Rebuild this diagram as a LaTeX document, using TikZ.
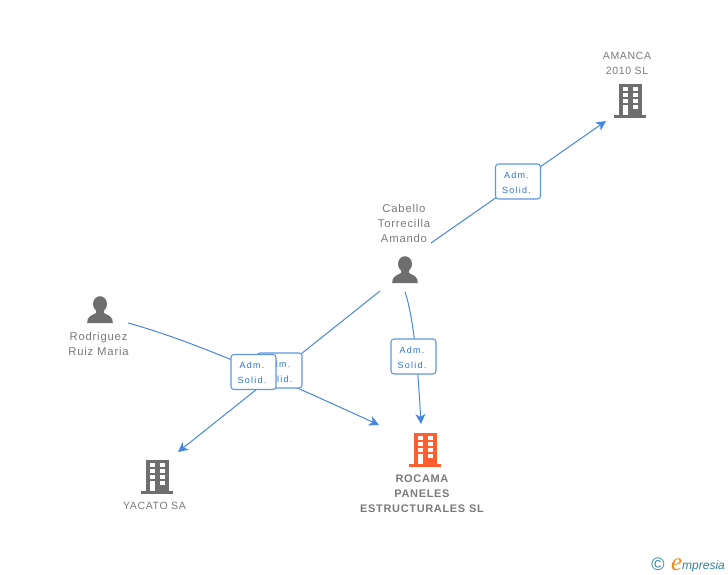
\documentclass[tikz,border=0pt]{standalone}
\usepackage{fontspec}
\setmainfont{Liberation Sans}
\newfontfamily\lblfont[LetterSpace=7]{Liberation Sans}
\newfontfamily\capfont[LetterSpace=6]{Liberation Sans}
\newfontfamily\boxfont[LetterSpace=14]{Liberation Sans}
\newfontfamily\efont{Liberation Serif}
\usetikzlibrary{arrows.meta}
\definecolor{ink}{HTML}{6E6E6E}
\definecolor{txt}{HTML}{7A7A7A}
\definecolor{linkc}{HTML}{4686E2}
\definecolor{boxb}{HTML}{5F97E2}
\definecolor{boxt}{HTML}{2F74D0}
\definecolor{orangeb}{HTML}{FF5F2E}
\definecolor{teal2}{HTML}{2F7F98}
\definecolor{orangee}{HTML}{F08A1D}
\tikzset{
  x=1pt,y=-1pt,
  link/.style={draw=linkc,line width=1pt,-{Stealth[length=10pt,width=10pt,inset=3pt]}},
  admbox/.style={draw=boxb,line width=1.1pt,rounded corners=3pt,fill=white,minimum width=45pt,minimum height=35pt,inner sep=0pt},
  admtext/.style={inner sep=0pt,align=center,text=boxt,font=\boxfont\fontsize{9}{15}\selectfont},
  lbl/.style={align=center,text=txt,inner sep=0pt,font=\lblfont\fontsize{11.3}{15}\selectfont},
  clbl/.style={align=center,text=txt,inner sep=0pt,font=\capfont\fontsize{10.5}{15}\selectfont},
  blbl/.style={align=center,text=txt,inner sep=0pt,font=\capfont\bfseries\fontsize{11}{15}\selectfont},
  pics/building/.style={code={
    \fill[#1] (-11.5,-17) rectangle (11.5,14);
    \fill[#1] (-16,14) rectangle (16,17);
    \foreach \yy in {-14,-8,-2}{
      \fill[white] (-7.5,\yy) rectangle (-2.5,\yy+4);
      \fill[white] (2.5,\yy) rectangle (7.5,\yy+4);
    }
    \fill[white] (2.5,4) rectangle (7.5,8);
    \fill[white] (-7.5,4) rectangle (-2.5,14);
  }},
  pics/person/.style={code={
    \fill[ink] (0,-6) ellipse (7pt and 7.8pt);
    \fill[ink] (-12.8,13) .. controls (-12.8,7) and (-10,6) .. (-4,3) -- (-4,0) -- (4,0) -- (4,3) .. controls (10,6) and (12.8,7) .. (12.8,13) -- cycle;
  }}
}
\begin{document}
\begin{tikzpicture}
\useasboundingbox (0,0) rectangle (728,575);

% icons
\pic at (630,101) {building=ink};
\pic at (157,477) {building=ink};
\pic at (425,450) {building=orangeb};
\pic at (405,270) {person};
\pic at (100,310) {person};

% labels
\node[clbl] (amancal) at (627,63) {AMANCA\\2010 SL};
\node[lbl] (cabellol) at (404,223.5) {Cabello\\Torrecilla\\Amando};
\node[lbl] (rodl) at (98.5,344) {Rodriguez\\Ruiz Maria};
\node[clbl] (yacatol) at (154.5,506) {YACATO SA};
\node[blbl] (rocamal) at (422,494) {ROCAMA\\PANELES\\ESTRUCTURALES SL};

% connector ends
\coordinate (cabA) at (431,243);
\coordinate (cabB) at (405,292);
\coordinate (cabC) at (380,291);
\coordinate (amancaIn) at (606,121);
\coordinate (rocamaInA) at (421,424);
\coordinate (rocamaInB) at (379,425);
\coordinate (yacatoIn) at (178,452);
\coordinate (rodOut) at (128,323);

% connectors
\path[link] (cabA) -- (amancaIn);
\path[link] (cabB) .. controls (414,318) and (418,370) .. (rocamaInA);
\path[link] (cabC) -- (yacatoIn);
\path[link] (rodOut) .. controls (190,340) and (270,375) .. (rocamaInB);

% boxes
\node[admbox] (b1) at (518,181.5) {};
\node[admtext] (t1) at (516.5,182.5) {Adm.\\Solid.};
\node[admbox] (b2) at (413.5,356.5) {};
\node[admtext] (t2) at (412,357.5) {Adm.\\Solid.};
\node[admbox] (b3) at (279.5,370.5) {};
\node[admtext] (t3) at (278,371.5) {Adm.\\Solid.};
\node[admbox] (b4) at (253.5,372) {};
\node[admtext] (t4) at (252,373) {Adm.\\Solid.};

% logo
\node[inner sep=0pt,text=teal2,font=\fontsize{18}{18}\selectfont] (copy) at (658,564) {©};
\node[inner sep=0pt,anchor=base west,text=orangee,font=\efont\itshape\fontsize{25}{25}\selectfont] (ee) at (671,570) {e};
\node[inner sep=0pt,anchor=base west,text=teal2,font=\itshape\fontsize{12}{12}\selectfont] (mp) at (682,569) {mpresia};
\end{tikzpicture}
\end{document}
